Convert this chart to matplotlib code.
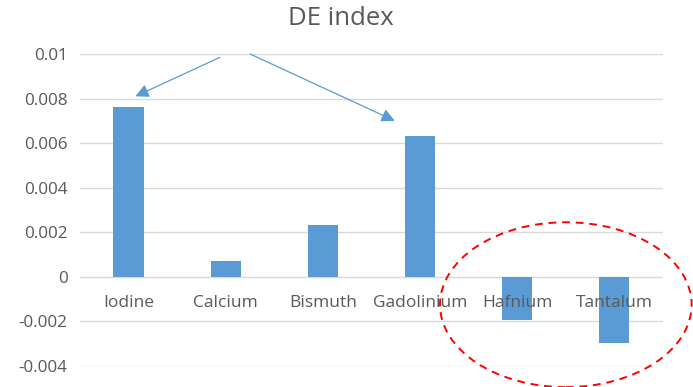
import matplotlib
matplotlib.use("Agg")
from matplotlib import pyplot as plt
from matplotlib.patches import Ellipse
import numpy as np

elements = ["Iodine", "Calcium", "Bismuth", "Gadolinium", "Hafnium", "Tantalum"]
de_index = [0.0076, 0.00073, 0.00233, 0.0063, -0.00194, -0.00296]
yticks = [-0.004, -0.002, 0, 0.002, 0.004, 0.006, 0.008, 0.01]
ytick_labels = ["-0.004", "-0.002", "0", "0.002", "0.004", "0.006", "0.008", "0.01"]

plt.rcParams['font.family'] = ['Open Sans', 'DejaVu Sans']
txt = '#595959'
blue = '#5B9BD5'

fig = plt.figure(figsize=(6.93, 3.87), dpi=100)
ax = fig.add_axes([0.1154, 0.0543, 0.8413, 0.8062])

x = np.arange(len(elements))
ax.bar(x, de_index, 0.31, color=blue, zorder=3)

ax.set_xlim(-0.5, len(elements) - 0.5)
ax.set_ylim(-0.004, 0.01)
ax.set_yticks(yticks)
ax.set_yticklabels(ytick_labels)
ax.yaxis.grid(True, color='#D9D9D9', linewidth=1, zorder=0)
ax.set_xticks([])
for s in ax.spines.values():
    s.set_visible(False)
ax.tick_params(axis='y', length=0, labelsize=12.3, labelcolor=txt, pad=9)

# category names sit just under the zero line
for i, name in enumerate(elements):
    ax.text(i, -0.00118, name, ha='center', va='center', fontsize=12.5, color=txt, zorder=4)

fig.text(0.492, 0.952, "DE index", ha='center', va='center', fontsize=18.5, color=txt)

# arrows pointing to the two tallest bars
arrow = dict(arrowstyle='-|>', color=blue, lw=0.9, mutation_scale=20, shrinkA=0, shrinkB=0)
ax.annotate("", xy=(0.07, 0.0081), xytext=(0.94, 0.00985), arrowprops=arrow)
ax.annotate("", xy=(2.74, 0.0070), xytext=(1.25, 0.01), arrowprops=arrow)

# dashed ring around the negative values
ring = Ellipse((4.5, -0.00125), 2.59, 0.0074, fill=False, edgecolor='#FF0000',
               linestyle=(0, (4, 3)), linewidth=1.4, zorder=5, clip_on=False)
ax.add_patch(ring)

fig.savefig("out.png", dpi=100)
